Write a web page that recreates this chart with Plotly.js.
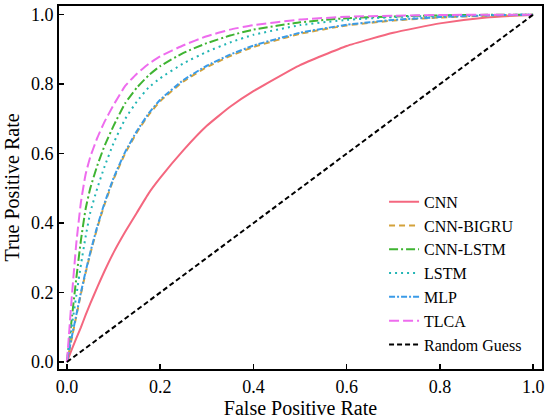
<!DOCTYPE html>
<html>
<head>
<meta charset="utf-8">
<script src="https://cdn.plot.ly/plotly-3.0.1.min.js"></script>
<style>
html,body{margin:0;padding:0;background:#fff;}
#chart{width:550px;height:419px;}
</style>
</head>
<body>
<div id="chart"></div>
<script>
// False positive rate grid
const fpr = [0, 0.005, 0.01, 0.02, 0.03, 0.04, 0.05, 0.065, 0.08, 0.1, 0.125, 0.15, 0.175, 0.2, 0.25, 0.3, 0.35, 0.4, 0.5, 0.6, 0.7, 0.8, 0.9, 1.0];
// True positive rates per model
const tprCNN     = [0, 0.018, 0.035, 0.068, 0.10, 0.135, 0.168, 0.215, 0.26, 0.315, 0.375, 0.43, 0.485, 0.53, 0.61, 0.68, 0.735, 0.78, 0.855, 0.91, 0.948, 0.975, 0.992, 1.0];
const tprBIGRU   = [0, 0.032, 0.066, 0.131, 0.196, 0.256, 0.311, 0.386, 0.451, 0.526, 0.601, 0.661, 0.711, 0.751, 0.808, 0.849, 0.881, 0.907, 0.945, 0.969, 0.983, 0.992, 0.997, 1.0];
const tprCNNLSTM = [0, 0.06, 0.12, 0.24, 0.35, 0.44, 0.50, 0.565, 0.62, 0.68, 0.745, 0.79, 0.825, 0.852, 0.89, 0.918, 0.94, 0.957, 0.978, 0.99, 0.995, 0.998, 0.9995, 1.0];
const tprLSTM    = [0, 0.05, 0.10, 0.19, 0.28, 0.36, 0.43, 0.50, 0.56, 0.63, 0.70, 0.75, 0.79, 0.817, 0.86, 0.893, 0.92, 0.942, 0.97, 0.985, 0.993, 0.997, 0.999, 1.0];
const tprMLP     = [0, 0.035, 0.07, 0.135, 0.20, 0.26, 0.315, 0.39, 0.455, 0.53, 0.605, 0.665, 0.715, 0.755, 0.812, 0.853, 0.885, 0.911, 0.948, 0.971, 0.985, 0.993, 0.998, 1.0];
const tprTLCA    = [0, 0.09, 0.18, 0.34, 0.46, 0.54, 0.59, 0.645, 0.69, 0.74, 0.795, 0.83, 0.858, 0.88, 0.912, 0.938, 0.957, 0.97, 0.986, 0.994, 0.997, 0.999, 1.0, 1.0];
const guessX = [0, 1];
const guessY = [0, 1];
const tickVals = [0, 0.2, 0.4, 0.6, 0.8, 1.0];
const tickLabels = ["0.0", "0.2", "0.4", "0.6", "0.8", "1.0"];

const modelNames = ["CNN", "CNN-BIGRU", "CNN-LSTM", "LSTM", "MLP", "TLCA"];
const modelSeries = [tprCNN, tprBIGRU, tprCNNLSTM, tprLSTM, tprMLP, tprTLCA];
const lineColors = ["#f4677f", "#d4a23a", "#3fb432", "#22b5b5", "#3a9be8", "#ee6cee"];
const lineDashes = ["solid", "6px,4px", "9px,3px,2px,3px", "2px,4px", "6px,2px,2px,2px", "10px,4px"];

const data = modelNames.map((n, i) => ({
  x: fpr, y: modelSeries[i], name: n, mode: "lines", type: "scatter",
  line: {color: lineColors[i], width: 2, dash: lineDashes[i], shape: "spline", smoothing: 0.4}
}));
data.push({
  x: guessX, y: guessY, name: "Random Guess", mode: "lines", type: "scatter",
  line: {color: "#000", width: 2, dash: "5px,3px"}
});

const figLayout = {
  width: 550, height: 419,
  margin: {l: 59, r: 8, t: 6, b: 50},
  font: {family: "Liberation Serif", size: 16},
  showlegend: true,
  legend: {x: 0.673, xanchor: "left", y: 0.02, yanchor: "bottom", bgcolor: "rgba(0,0,0,0)"},
  xaxis: {
    range: [-0.017, 1.019], tickvals: tickVals, ticktext: tickLabels,
    ticks: "inside", ticklen: 5, tickwidth: 1.5, tickcolor: "#000",
    showline: true, linecolor: "#000", linewidth: 2, mirror: true,
    showgrid: false, zeroline: false,
    tickfont: {size: 18},
    title: {text: "False Positive Rate", font: {size: 20}, standoff: 0}
  },
  yaxis: {
    range: [-0.02, 1.025], tickvals: tickVals, ticktext: tickLabels,
    ticks: "inside", ticklen: 5, tickwidth: 1.5, tickcolor: "#000",
    showline: true, linecolor: "#000", linewidth: 2, mirror: true,
    showgrid: false, zeroline: false,
    tickfont: {size: 18},
    title: {text: "True Positive Rate", font: {size: 20}, standoff: 6}
  }
};
Plotly.newPlot("chart", data, figLayout, {staticPlot: true}).then(() => {
  document.querySelectorAll("#chart text").forEach(t => { t.style.fill = "#000"; });
});
</script>
</body>
</html>
